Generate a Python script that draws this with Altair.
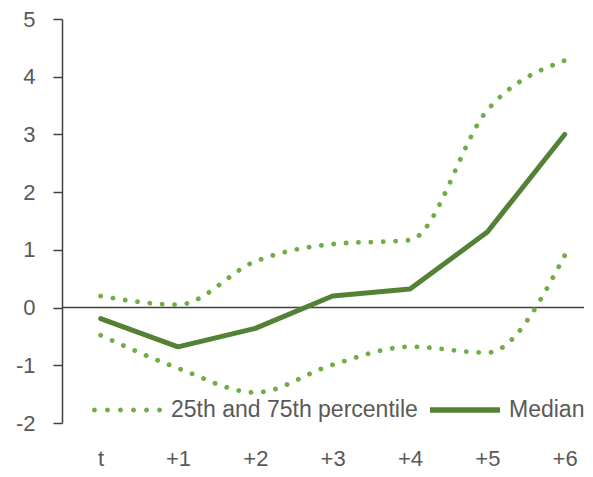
import altair as alt
import pandas as pd

periods = ["t", "+1", "+2", "+3", "+4", "+5", "+6"]
median = [-0.19, -0.68, -0.36, 0.20, 0.32, 1.31, 3.00]
p75 = [0.20, 0.05, 0.80, 1.10, 1.17, 3.42, 4.28]
p25 = [-0.48, -1.05, -1.47, -0.99, -0.68, -0.78, 0.90]

PCT = "25th and 75th percentile"
MED = "Median"
C_PCT = "#70AD47"
C_MED = "#548235"

rows = []
for i, p in enumerate(periods):
    rows.append({"idx": i, "period": p, "value": p75[i], "line": "p75", "type": PCT})
    rows.append({"idx": i, "period": p, "value": p25[i], "line": "p25", "type": PCT})
    rows.append({"idx": i, "period": p, "value": median[i], "line": "median", "type": MED})
df = pd.DataFrame(rows)

FONT = "Liberation Sans"
GRAY = "#595959"
FS = 22

label_expr = "[" + ",".join("'%s'" % p for p in periods) + "][datum.value]"

x = alt.X("idx:Q",
          scale=alt.Scale(domain=[-0.5, 6.25], nice=False, zero=False),
          axis=alt.Axis(values=list(range(len(periods))), labelExpr=label_expr,
                        domain=False, ticks=False, grid=False, title=None,
                        labelFont=FONT, labelFontSize=FS, labelColor=GRAY,
                        labelPadding=25))
y = alt.Y("value:Q",
          scale=alt.Scale(domain=[-2, 5], nice=False),
          axis=alt.Axis(values=list(range(-2, 6)), labelExpr="toString(datum.value)",
                        grid=False, title=None,
                        domainColor="#404040", domainWidth=1.5,
                        tickColor="#404040", tickWidth=1.5, tickSize=9,
                        labelFont=FONT, labelFontSize=FS, labelColor=GRAY,
                        labelPadding=18))

# legend symbol shapes (unit box -1..1)
r = 0.07
dots = ""
for k in range(6):
    cx = -0.93 + k * 0.372
    dots += "M%.3f,0 a%.3f,%.3f 0 1,0 %.3f,0 a%.3f,%.3f 0 1,0 %.3f,0 Z " % (cx - r, r, r, 2 * r, r, r, -2 * r)
solid = "M-1,-0.08 L1,-0.08 L1,0.08 L-1,0.08 Z"

base = alt.Chart(df)

zero = alt.Chart(pd.DataFrame({"z": [0]})).mark_rule(color="#404040", strokeWidth=1.5).encode(y="z:Q")

pct_lines = base.transform_filter(alt.datum.type == PCT).mark_line(
    strokeWidth=4.8, strokeCap="round", strokeDash=[0.1, 12.3], interpolate="monotone", color=C_PCT
).encode(x=x, y=y, detail="line:N")

med_line = base.transform_filter(alt.datum.type == MED).mark_line(
    strokeWidth=5, strokeCap="round", strokeJoin="round", color=C_MED
).encode(x=x, y=y)

leg = dict(title=None, orient="none", legendX=30, legendY=356,
           direction="horizontal", symbolSize=4900,
           symbolStrokeWidth=0, padding=0,
           labelFont=FONT, labelFontSize=23, labelColor=GRAY,
           columnPadding=12, labelOffset=9, labelLimit=400)

legend_layer = base.transform_filter("false").mark_point(filled=True, opacity=1).encode(
    x=x, y=y,
    color=alt.Color("type:N", scale=alt.Scale(domain=[PCT, MED], range=[C_PCT, C_MED]),
                    legend=alt.Legend(**leg)),
    shape=alt.Shape("type:N", scale=alt.Scale(domain=[PCT, MED], range=[dots, solid]),
                    legend=alt.Legend(**leg)),
)

chart = alt.layer(zero, pct_lines, med_line, legend_layer).properties(
    width=577, height=461,
    autosize=alt.AutoSizeParams(type="fit", contains="padding"),
    padding={"left": 7, "top": 0, "right": 0, "bottom": 0},
).configure_view(stroke=None)

chart.save("out.html", embed_options={"renderer": "svg", "actions": False})
